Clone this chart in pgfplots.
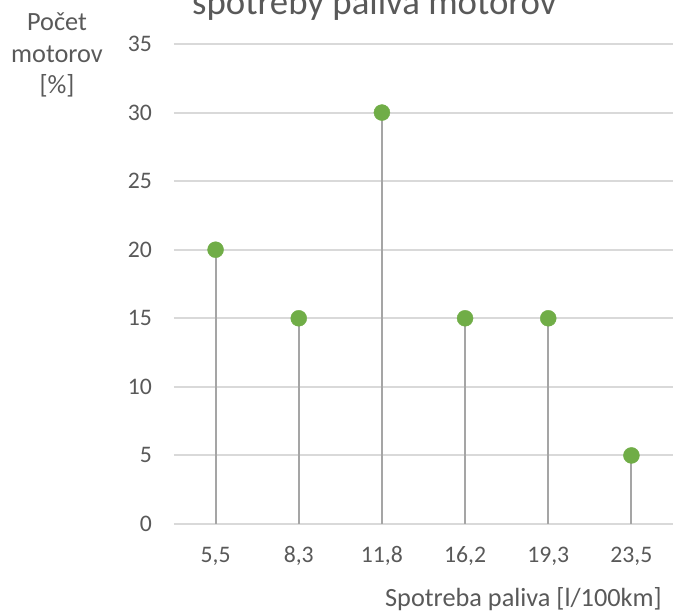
\documentclass[border=0pt]{standalone}
\usepackage{pgfplots}
\pgfplotsset{compat=1.18}
\usepackage{fontspec}
\setmainfont{Carlito}
\definecolor{txt}{HTML}{595959}
\definecolor{gridc}{HTML}{D9D9D9}
\definecolor{dropc}{HTML}{A5A5A5}
\definecolor{mk}{HTML}{70AD47}
\begin{document}
\begin{tikzpicture}[x=1pt,y=1pt]
\useasboundingbox (0,0) rectangle (673,613);
\begin{axis}[
  at={(174pt,89pt)}, anchor=south west,
  scale only axis, width=499pt, height=480pt,
  xmin=-0.5, xmax=5.5, ymin=0, ymax=35,
  axis line style={draw=none},
  major tick length=0pt,
  ymajorgrids, grid style={draw=gridc, line width=2pt},
  ytick={0,5,...,35},
  xtick={0,1,2,3,4,5},
  xticklabels={{5,5},{8,3},{11,8},{16,2},{19,3},{23,5}},
  /pgf/number format/assume math mode=true,
  tick label style={font=\fontsize{23.7}{28}\selectfont, text=txt},
  yticklabel style={anchor=east, inner sep=0pt, xshift=-22pt},
  xticklabel style={anchor=base, inner sep=0pt, yshift=-39pt},
  clip=false,
]
\addplot+[ycomb, draw=dropc, line width=2pt, mark=none] coordinates {(0,20) (1,15) (2,30) (3,15) (4,15) (5,5)};
\addplot[only marks, mark=*, mark size=8pt, mark options={fill=mk, draw=mk}] coordinates {(0,20) (1,15) (2,30) (3,15) (4,15) (5,5)};
\end{axis}
\node[anchor=base west, inner sep=0pt, text=txt, font=\fontsize{36.8}{44}\selectfont] at (192,598) {spotreby paliva motorov};
\node[anchor=base east, inner sep=0pt, text=txt, font=\fontsize{26.3}{31.5}\selectfont] at (662,6) {Spotreba paliva [l/100km]};
\node[anchor=north, inner sep=0pt, text=txt, align=center, font=\fontsize{26.3}{31.5}\selectfont] at (57,600) {Počet\\motorov\\{[\%]}};
\end{tikzpicture}
\end{document}
